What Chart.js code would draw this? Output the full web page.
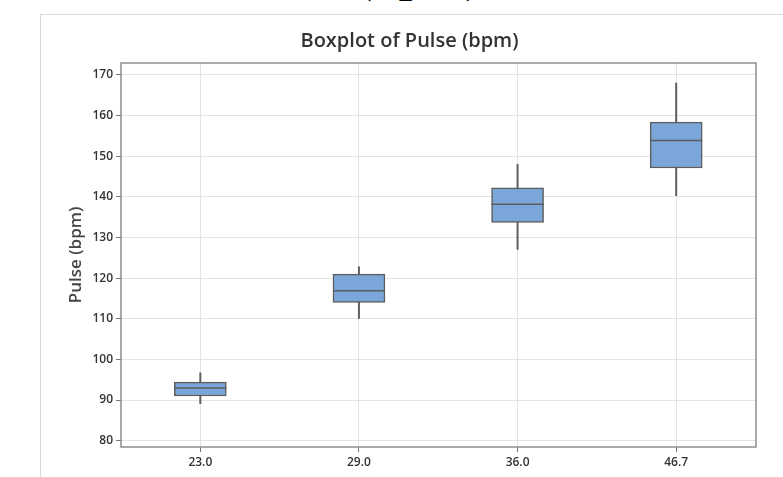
<!DOCTYPE html>
<html>
<head>
<meta charset="utf-8">
<script src="https://cdn.jsdelivr.net/npm/chart.js@4.4.0/dist/chart.umd.min.js"></script>
<style>
    body { margin: 0; background: #fff; }
    #page { position: relative; width: 783px; height: 477px; overflow: hidden; }
    #frame { position: absolute; left: 40px; top: 14px; right: -2px; bottom: -2px;
             border-top: 1px solid #dadada; border-left: 1px solid #dadada; }
    #cut { position: absolute; left: 356px; top: -49px; font: bold 48px "Liberation Serif", serif;
           line-height: 48px; color: #000; white-space: nowrap; }
</style>
</head>
<body>
<div id="page">
    <div id="cut">(bpm)</div>
    <div id="frame"></div>
    <canvas id="boxChart" width="783" height="477" style="position:absolute;left:0;top:0"></canvas>
</div>
<script>
// values
const categories = ["23.0", "29.0", "36.0", "46.7"];
const whiskerLow = [89.1, 110.1, 127.1, 140.3];
const q1 = [91.0, 114.0, 133.7, 147.1];
const medians = [93.0, 116.9, 138.2, 153.9];
const q3 = [94.4, 121.0, 142.2, 158.4];
const whiskerHigh = [96.7, 122.8, 148.0, 168.0];
const yTicks = [80, 90, 100, 110, 120, 130, 140, 150, 160, 170];

const lineGrey = "#5c5c5c";
const fontFamily = "'Open Sans', sans-serif";

// draws the box round the plot area
const plotFrame = {
    id: "plotFrame",
    afterDraw(chart) {
        const a = chart.chartArea;
        const ctx = chart.ctx;
        ctx.save();
        ctx.strokeStyle = "#8e8e8e";
        ctx.lineWidth = 1.5;
        ctx.strokeRect(Math.round(a.left), Math.round(a.top), Math.round(a.right - a.left), Math.round(a.bottom - a.top));
        ctx.restore();
    }
};

function initBoxChart() {
    const canvas = document.getElementById("boxChart");
    const ctx = canvas.getContext("2d");

    new Chart(ctx, {
        data: {
            labels: categories,
            datasets: [
                {
                    type: "line",
                    label: "Median",
                    data: medians,
                    showLine: false,
                    pointStyle: "line",
                    pointRadius: 26,
                    pointHoverRadius: 26,
                    pointBorderWidth: 1.5,
                    pointBorderColor: lineGrey,
                    order: 1,
                },
                {
                    type: "bar",
                    label: "IQR",
                    data: categories.map((c, i) => [q1[i], q3[i]]),
                    backgroundColor: "#7ba6da",
                    borderColor: lineGrey,
                    borderWidth: 1.5,
                    borderSkipped: false,
                    barThickness: 52,
                    grouped: false,
                    order: 2,
                },
                {
                    type: "bar",
                    label: "Whisker",
                    data: categories.map((c, i) => [whiskerLow[i], whiskerHigh[i]]),
                    backgroundColor: lineGrey,
                    borderWidth: 0,
                    barThickness: 1.3,
                    grouped: false,
                    order: 3,
                },
            ],
        },
        options: {
            responsive: false,
            animation: false,
            layout: { padding: { left: 60, right: 24, top: 0, bottom: 0 } },
            plugins: {
                legend: { display: false },
                tooltip: { enabled: false },
                title: {
                    display: true,
                    text: "Boxplot of Pulse (bpm)",
                    color: "#333",
                    font: { family: fontFamily, size: 20, weight: 600 },
                    padding: { top: 29, bottom: 10 },
                },
            },
            scales: {
                x: {
                    offset: true,
                    grid: { offset: false, color: "#e3e3e3", tickColor: "#777", tickLength: 5 },
                    border: { display: false },
                    ticks: { color: "#333", padding: 3, font: { family: fontFamily, size: 12, weight: 600 } },
                    afterFit: function (scale) { scale.height = 30; },
                },
                y: {
                    min: 78.45,
                    max: 172.95,
                    afterBuildTicks: function (scale) {
                        scale.ticks = yTicks.map(v => ({ value: v }));
                    },
                    grid: { color: "#e3e3e3", tickColor: "#777", tickLength: 5 },
                    border: { display: false },
                    ticks: { color: "#333", padding: 3, font: { family: fontFamily, size: 12, weight: 600 } },
                    title: {
                        display: true,
                        text: "Pulse (bpm)",
                        color: "#444",
                        font: { family: fontFamily, size: 17, weight: 600 },
                        padding: { top: 6, bottom: 0 },
                    },
                    afterFit: function (scale) { scale.width = 61; },
                },
            },
        },
        plugins: [plotFrame],
    });
}

initBoxChart();
</script>
</body>
</html>
